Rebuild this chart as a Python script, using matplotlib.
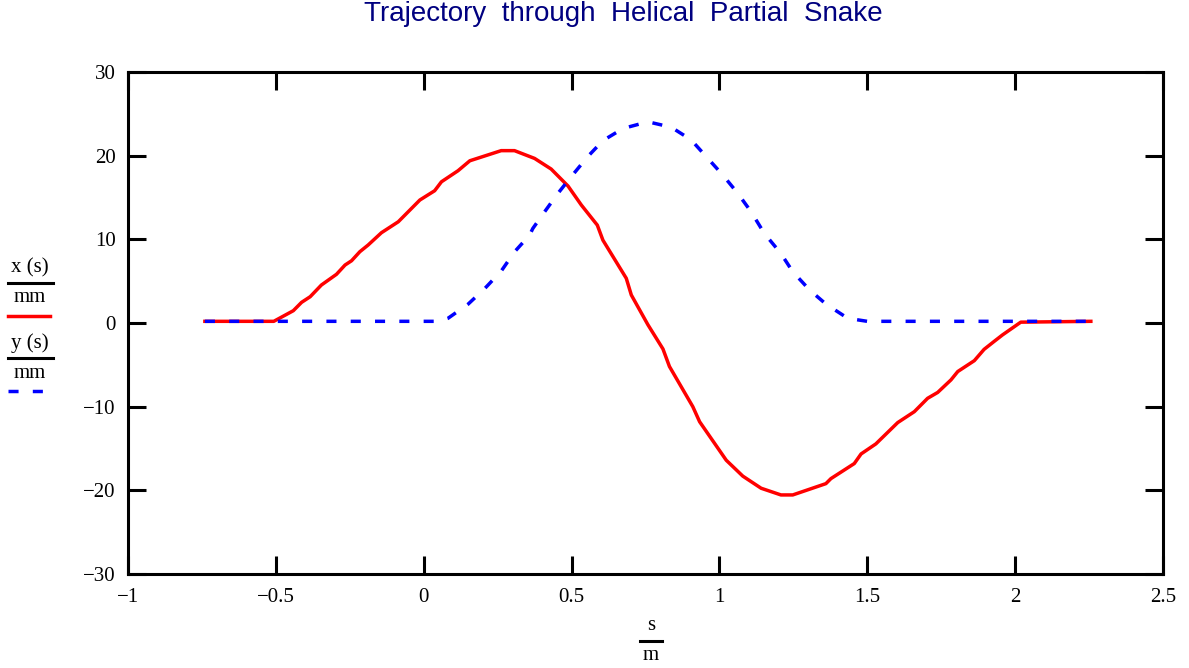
import matplotlib
matplotlib.use("Agg")
import matplotlib.pyplot as plt
from matplotlib.lines import Line2D

# x(s)/mm, red solid
s_x = [-0.74, -0.507, -0.441, -0.413, -0.384, -0.346, -0.295, -0.266, -0.244, -0.216,
       -0.188, -0.143, -0.086, -0.013, 0.037, 0.060, 0.116, 0.156, 0.262, 0.307,
       0.375, 0.431, 0.488, 0.533, 0.587, 0.606, 0.685, 0.702, 0.758, 0.809,
       0.831, 0.910, 0.933, 1.023, 1.079, 1.141, 1.208, 1.248, 1.360, 1.377,
       1.456, 1.479, 1.529, 1.603, 1.659, 1.704, 1.738, 1.783, 1.806, 1.862,
       1.895, 1.929, 1.957, 2.019, 2.256]
x_mm = [0.2, 0.2, 1.47, 2.47, 3.14, 4.54, 5.82, 6.93, 7.44, 8.52,
        9.32, 10.79, 12.10, 14.70, 15.81, 16.88, 18.2, 19.39, 20.6, 20.6,
        19.67, 18.4, 16.37, 14.1, 11.7, 9.9, 5.34, 3.35, -0.2, -3.1,
        -5.2, -10.0, -11.8, -16.4, -18.3, -19.75, -20.55, -20.55, -19.2, -18.6,
        -16.8, -15.65, -14.45, -11.9, -10.6, -9.0, -8.3, -6.8, -5.8, -4.5,
        -3.15, -2.2, -1.43, 0.1, 0.2]

# y(s)/mm, blue dashed
s_y = [-0.74, 0.05, 0.082, 0.150, 0.207, 0.262, 0.307, 0.358, 0.369, 0.409,
       0.454, 0.499, 0.555, 0.606, 0.674, 0.758, 0.837, 0.904, 0.955, 1.011,
       1.062, 1.107, 1.152, 1.208, 1.248, 1.305, 1.360, 1.434, 1.50, 2.256]
y_mm = [0.2, 0.2, 0.56, 2.25, 4.14, 6.2, 8.5, 10.5, 11.3, 13.3,
        15.5, 17.5, 19.9, 21.8, 23.25, 24.05, 23.4, 21.9, 19.9, 17.7,
        15.5, 13.3, 10.7, 8.3, 6.13, 3.94, 2.27, 0.56, 0.2, 0.2]

xticks = [-1, -0.5, 0, 0.5, 1, 1.5, 2, 2.5]
yticks = [-30, -20, -10, 0, 10, 20, 30]

W, H = 1189, 668
serif = ["Liberation Serif", "DejaVu Serif"]
plt.rcParams["font.family"] = serif

fig = plt.figure(figsize=(W / 100, H / 100), dpi=100)
ax = fig.add_axes([128 / W, 1 - 574 / H, (1163 - 128) / W, (574 - 72) / H])

lw = 2.5
blue_dash = (2.9, 4.1)
ax.plot(s_x, x_mm, color="#ff0000", lw=lw, zorder=2)
ax.plot(s_y, y_mm, color="#0000ff", lw=lw, dashes=blue_dash,
        dash_capstyle="butt", zorder=3)

ax.set_xlim(-1, 2.5)
ax.set_ylim(-30, 30)
ax.set_xticks(xticks)
ax.set_yticks(yticks)
ax.set_xticklabels([f"{t:g}".replace("-", "\u2212") for t in xticks])
ax.set_yticklabels([f"{t:g}".replace("-", "\u2212") for t in yticks])
ax.tick_params(direction="in", length=13, width=2.2, top=True, right=True,
               labelsize=15, color="black")
ax.tick_params(axis="x", pad=10)
ax.tick_params(axis="y", pad=9)
for sp in ax.spines.values():
    sp.set_linewidth(2.2)


def fx(px):
    return px / W


def fy(py):
    return 1 - py / H


# title
fig.text(fx(623), fy(14), "Trajectory  through  Helical  Partial  Snake",
         ha="center", va="center", fontsize=20, color="#000080",
         family=["Liberation Sans", "DejaVu Sans"])

# x-axis label as a fraction s/m
fig.text(fx(651), fy(626), "s", ha="center", va="center", fontsize=15)
fig.add_artist(Line2D([fx(640), fx(662)], [fy(641), fy(641)], color="black",
                      lw=2.2, transform=fig.transFigure))
fig.text(fx(651), fy(656), "m", ha="center", va="center", fontsize=15)

# legend at left
fig.text(fx(30), fy(268), "x (s)", ha="center", va="center", fontsize=15)
fig.add_artist(Line2D([fx(8), fx(53)], [fy(283), fy(283)], color="black",
                      lw=2.2, transform=fig.transFigure))
fig.text(fx(30), fy(298), "mm", ha="center", va="center", fontsize=15)
fig.add_artist(Line2D([fx(8), fx(50)], [fy(316), fy(316)], color="#ff0000",
                      lw=lw, transform=fig.transFigure))

fig.text(fx(30), fy(343), "y (s)", ha="center", va="center", fontsize=15)
fig.add_artist(Line2D([fx(8), fx(53)], [fy(358), fy(358)], color="black",
                      lw=2.2, transform=fig.transFigure))
fig.text(fx(30), fy(373), "mm", ha="center", va="center", fontsize=15)
fig.add_artist(Line2D([fx(8), fx(50)], [fy(391), fy(391)], color="#0000ff",
                      lw=lw, dashes=blue_dash, dash_capstyle="butt",
                      transform=fig.transFigure))

fig.savefig("out.png", dpi=100)
